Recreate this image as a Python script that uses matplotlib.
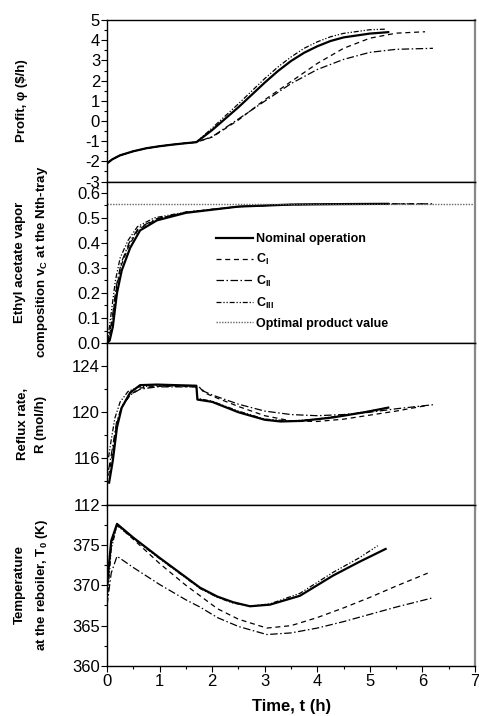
import matplotlib
matplotlib.use('Agg')
import matplotlib.pyplot as plt
from matplotlib.ticker import MultipleLocator, FixedLocator

plt.rcParams['font.family'] = ['Liberation Sans', 'DejaVu Sans']
plt.rcParams['mathtext.fontset'] = 'custom'
plt.rcParams['mathtext.rm'] = 'Liberation Sans'
plt.rcParams['mathtext.bf'] = 'Liberation Sans:bold'
plt.rcParams['axes.unicode_minus'] = False

# ---- Profit (panel 1) ----
t_p_nom = [0, 0.1, 0.25, 0.5, 0.75, 1.0, 1.25, 1.5, 1.7, 2.0, 2.5, 3.0, 3.25, 3.5, 3.75, 4.0, 4.25, 4.5, 5.0, 5.35]
p_nom = [-2.1, -1.9, -1.7, -1.5, -1.35, -1.25, -1.17, -1.1, -1.05, -0.45, 0.68, 1.9, 2.47, 2.97, 3.38, 3.7, 3.96, 4.14, 4.33, 4.4]
t_p_c1 = [0, 0.1, 0.25, 0.5, 0.75, 1.0, 1.25, 1.5, 1.7, 2.0, 2.5, 3.0, 3.5, 4.0, 4.5, 5.0, 5.5, 6.05]
p_c1 = [-2.1, -1.9, -1.7, -1.5, -1.35, -1.25, -1.17, -1.1, -1.05, -0.8, 0.05, 1.05, 1.95, 2.85, 3.6, 4.1, 4.35, 4.42]
t_p_c2 = [0, 0.1, 0.25, 0.5, 0.75, 1.0, 1.25, 1.5, 1.7, 2.0, 2.5, 3.0, 3.5, 4.0, 4.5, 5.0, 5.5, 6.2]
p_c2 = [-2.1, -1.9, -1.7, -1.5, -1.35, -1.25, -1.17, -1.1, -1.05, -0.78, 0.1, 0.98, 1.85, 2.55, 3.05, 3.4, 3.55, 3.6]
t_p_c3 = [0, 0.1, 0.25, 0.5, 0.75, 1.0, 1.25, 1.5, 1.7, 2.0, 2.5, 3.0, 3.25, 3.5, 3.75, 4.0, 4.25, 4.5, 5.0, 5.3]
p_c3 = [-2.1, -1.9, -1.7, -1.5, -1.35, -1.25, -1.17, -1.1, -1.05, -0.35, 0.85, 2.1, 2.67, 3.17, 3.6, 3.92, 4.17, 4.34, 4.52, 4.55]

# ---- Ethyl acetate composition (panel 2) ----
t_y_nom = [0, 0.05, 0.11, 0.19, 0.28, 0.44, 0.63, 0.95, 1.5, 2.5, 3.5, 4.5, 5.35]
y_nom = [0.0, 0.01, 0.064, 0.2, 0.29, 0.38, 0.45, 0.49, 0.52, 0.545, 0.553, 0.555, 0.556]
t_y_c1 = [0, 0.04, 0.1, 0.18, 0.27, 0.42, 0.6, 0.95, 1.5, 2.5, 3.5, 4.5, 5.5, 6.1]
y_c1 = [0.0, 0.02, 0.09, 0.22, 0.31, 0.39, 0.455, 0.495, 0.522, 0.545, 0.553, 0.555, 0.556, 0.556]
t_y_c2 = [0, 0.04, 0.1, 0.18, 0.27, 0.42, 0.6, 0.95, 1.5, 2.5, 3.5, 4.5, 5.5, 6.2]
y_c2 = [0.0, 0.03, 0.1, 0.23, 0.32, 0.4, 0.46, 0.497, 0.522, 0.545, 0.553, 0.555, 0.556, 0.556]
t_y_c3 = [0, 0.03, 0.08, 0.16, 0.25, 0.4, 0.58, 0.9, 1.5, 2.5, 3.5, 4.5, 5.3]
y_c3 = [0.0, 0.04, 0.12, 0.25, 0.34, 0.41, 0.465, 0.5, 0.523, 0.545, 0.553, 0.555, 0.556]
y_opt = 0.557

# ---- Reflux rate (panel 3) ----
t_r_nom = [0.04, 0.11, 0.19, 0.28, 0.44, 0.63, 0.95, 1.3, 1.7, 1.72, 2.0, 2.5, 3.0, 3.3, 3.7, 4.3, 4.9, 5.35]
r_nom = [113.9, 115.8, 118.7, 120.4, 121.7, 122.35, 122.4, 122.35, 122.3, 121.1, 120.9, 120.0, 119.35, 119.2, 119.25, 119.55, 120.0, 120.4]
t_r_c1 = [0.03, 0.1, 0.18, 0.28, 0.44, 0.63, 0.95, 1.3, 1.75, 1.85, 2.0, 2.5, 3.0, 3.5, 4.0, 4.5, 5.0, 5.5, 6.1]
r_c1 = [114.5, 116.3, 118.9, 120.4, 121.5, 122.1, 122.25, 122.25, 122.2, 121.7, 121.4, 120.5, 119.7, 119.25, 119.2, 119.4, 119.75, 120.1, 120.6]
t_r_c2 = [0.03, 0.1, 0.18, 0.28, 0.44, 0.63, 0.95, 1.3, 1.75, 1.85, 2.0, 2.5, 3.0, 3.5, 4.0, 4.5, 5.0, 5.5, 6.2]
r_c2 = [115.0, 116.8, 119.1, 120.5, 121.5, 122.0, 122.2, 122.2, 122.2, 121.8, 121.5, 120.7, 120.1, 119.8, 119.7, 119.8, 120.0, 120.3, 120.65]
t_r_c3 = [0.03, 0.08, 0.15, 0.25, 0.4, 0.6, 0.95, 1.3, 1.7, 1.72, 2.0, 2.5, 3.0, 3.5, 4.0, 4.5, 5.0, 5.3]
r_c3 = [116.1, 117.6, 119.5, 120.9, 121.8, 122.2, 122.3, 122.3, 122.3, 121.2, 120.95, 120.1, 119.4, 119.25, 119.4, 119.75, 120.1, 120.35]

# ---- Reboiler temperature (panel 4) ----
t_T_nom = [0, 0.08, 0.19, 0.5, 1.0, 1.5, 1.77, 2.1, 2.4, 2.72, 3.1, 3.67, 4.3, 4.8, 5.3]
T_nom = [370.0, 375.5, 377.6, 375.9, 373.4, 371.0, 369.7, 368.6, 367.9, 367.4, 367.6, 368.7, 371.2, 372.9, 374.5]
t_T_c1 = [0, 0.08, 0.19, 0.5, 1.0, 1.5, 1.77, 2.1, 2.5, 3.04, 3.5, 4.0, 4.5, 5.0, 5.5, 6.1]
T_c1 = [369.0, 375.0, 377.5, 375.7, 372.7, 370.0, 368.7, 367.1, 365.8, 364.7, 365.0, 366.0, 367.2, 368.5, 369.9, 371.5]
t_T_c2 = [0, 0.08, 0.19, 0.5, 1.0, 1.5, 1.77, 2.1, 2.5, 3.04, 3.5, 4.0, 4.5, 5.0, 5.5, 6.17]
T_c2 = [367.5, 371.5, 373.6, 372.2, 370.1, 368.2, 367.3, 366.0, 364.9, 363.9, 364.1, 364.7, 365.5, 366.4, 367.3, 368.4]
t_T_c3 = [0, 0.08, 0.19, 0.5, 1.0, 1.5, 1.77, 2.1, 2.4, 2.72, 3.1, 3.67, 4.3, 4.8, 5.15]
T_c3 = [367.5, 374.5, 377.4, 375.8, 373.3, 370.9, 369.6, 368.5, 367.8, 367.4, 367.7, 369.0, 371.6, 373.4, 374.9]

labels = ['Nominal operation', r'$\mathbf{C}_{\mathbf{I}}$', r'$\mathbf{C}_{\mathbf{II}}$',
          r'$\mathbf{C}_{\mathbf{III}}$', 'Optimal product value']

styles = [
    dict(color='black', linewidth=1.6, linestyle='-'),
    dict(color='black', linewidth=0.9, linestyle=(0, (4, 3))),
    dict(color='black', linewidth=0.9, linestyle=(0, (6, 2, 1.2, 2))),
    dict(color='black', linewidth=0.9, linestyle=(0, (4, 1.5, 1, 1.5, 1, 1.5))),
]

fig = plt.figure(figsize=(4.79, 7.16), dpi=100)
fig.subplots_adjust(left=0.2234, right=0.9916, top=0.972, bottom=0.0698, hspace=0)
axes = fig.subplots(4, 1, sharex=True)

series = [
    [(t_p_nom, p_nom), (t_p_c1, p_c1), (t_p_c2, p_c2), (t_p_c3, p_c3)],
    [(t_y_nom, y_nom), (t_y_c1, y_c1), (t_y_c2, y_c2), (t_y_c3, y_c3)],
    [(t_r_nom, r_nom), (t_r_c1, r_c1), (t_r_c2, r_c2), (t_r_c3, r_c3)],
    [(t_T_nom, T_nom), (t_T_c1, T_c1), (t_T_c2, T_c2), (t_T_c3, T_c3)],
]

for ax, ser in zip(axes, series):
    for (tx, vy), st, lab in zip(ser, styles, labels):
        ax.plot(tx, vy, label=lab, **st)

axes[1].axhline(y_opt, color='#666666', linewidth=1.0, linestyle=(0, (1, 1)), label=labels[4])

# axis ranges and ticks
axes[0].set_ylim(-3, 5)
axes[0].yaxis.set_major_locator(MultipleLocator(1))
axes[0].yaxis.set_minor_locator(MultipleLocator(0.5))

axes[1].set_ylim(0, 0.645)
axes[1].yaxis.set_major_locator(FixedLocator([0.0, 0.1, 0.2, 0.3, 0.4, 0.5, 0.6]))
axes[1].yaxis.set_minor_locator(MultipleLocator(0.05))
axes[1].yaxis.set_major_formatter(plt.FuncFormatter(lambda v, p: f"{v:.1f}"))

axes[2].set_ylim(112, 126)
axes[2].yaxis.set_major_locator(FixedLocator([112, 116, 120, 124]))
axes[2].yaxis.set_minor_locator(MultipleLocator(2))

axes[3].set_ylim(360, 380)
axes[3].yaxis.set_major_locator(FixedLocator([360, 365, 370, 375]))
axes[3].yaxis.set_minor_locator(MultipleLocator(2.5))

axes[3].set_xlim(0, 7)
axes[3].xaxis.set_major_locator(MultipleLocator(1))
axes[3].xaxis.set_minor_locator(MultipleLocator(0.5))

for ax in axes:
    ax.tick_params(which='major', direction='out', length=4, width=0.8, labelsize=12, top=False, right=False)
    ax.tick_params(which='minor', direction='out', length=2, width=0.8, top=False, right=False)
    ax.tick_params(axis='y', pad=1)
    ax.tick_params(axis='x', labelbottom=False)
    ax.spines['right'].set_color('#888888')
    ax.spines['right'].set_linewidth(1.6)
    for s in ['left', 'bottom', 'top']:
        ax.spines[s].set_linewidth(1.0)
axes[3].tick_params(axis='x', labelbottom=True, labelsize=12, pad=2)

# y labels placed in figure pixels (reference positions)
W, H = 479, 716
lab_kw = dict(fontsize=9.5, fontweight='bold', rotation=90, ha='center', va='center',
              linespacing=1.75)
fig.text(22 / W, 1 - 101 / H, 'Profit, \u03c6 ($/h)', **lab_kw)
fig.text(32 / W, 1 - 262 / H, 'Ethyl acetate vapor\ncomposition v$_{\\mathbf{C}}$ at the Nth-tray', **lab_kw)
fig.text(32 / W, 1 - 424 / H, 'Reflux rate,\nR (mol/h)', **lab_kw)
fig.text(32 / W, 1 - 585 / H, 'Temperature\nat the reboiler, T$_{\\mathbf{0}}$ (K)', **lab_kw)
fig.text(292 / W, 1 - 707 / H, 'Time, t (h)', fontsize=12, fontweight='bold', ha='center', va='center')

leg = axes[1].legend(loc='upper left', bbox_to_anchor=(0.28, 0.72), frameon=False,
                     prop=dict(size=9, weight='bold'), handlelength=2.9,
                     handletextpad=0.3, labelspacing=0.55, borderpad=0)

fig.savefig('out.png', dpi=100)
